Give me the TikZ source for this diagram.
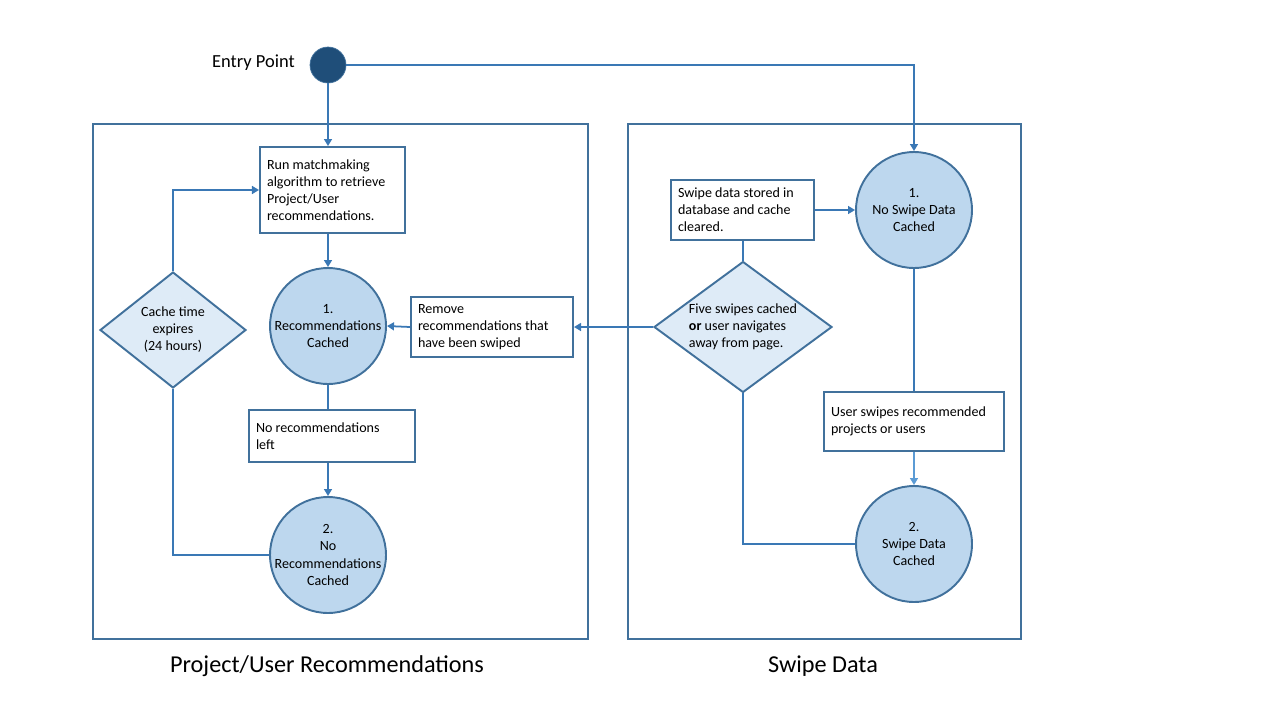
\documentclass[tikz,border=0pt]{standalone}
\usepackage{fontspec}
\setmainfont{Carlito}
\usetikzlibrary{arrows.meta,shapes.geometric}
\definecolor{edgeblue}{HTML}{41719C}
\definecolor{wireblue}{HTML}{3A78B5}
\definecolor{paleblue}{HTML}{5B9BD5}
\definecolor{statefill}{HTML}{BDD7EE}
\definecolor{choicefill}{HTML}{DEEBF7}
\definecolor{entryfill}{HTML}{1F4E79}

\begin{document}
\begin{tikzpicture}[x=0.02cm, y=-0.02cm, >={Triangle[length=4pt,width=4.5pt]},
  font=\fontsize{8}{9.7}\selectfont,
  frame/.style={draw=edgeblue, line width=1.1pt},
  state/.style={circle, draw=edgeblue, line width=1.1pt, fill=statefill,
    minimum size=2.32cm, inner sep=-8pt, align=center},
  task/.style={draw=edgeblue, line width=1.1pt, fill=white, align=flush left, inner sep=4pt},
  choice/.style={diamond, draw=edgeblue, line width=1.1pt, fill=choicefill, inner sep=0pt},
  wire/.style={draw=wireblue, line width=1pt},
  title/.style={font=\fontsize{13.8}{16}\selectfont}]
  \useasboundingbox (0,0) rectangle (1280,720);

  % two frames
  \draw[frame] (93,124) rectangle (588,639);
  \draw[frame] (628,124) rectangle (1021,639);
  \node[title] (leftcap) at (327,666) {Project/User Recommendations};
  \node[title] (rightcap) at (823,666) {Swipe Data};

  % entry
  \node[circle, fill=entryfill, draw=edgeblue, minimum size=0.72cm, inner sep=0pt] (entry) at (328,65) {};
  \node[anchor=east, font=\fontsize{10.5}{12}\selectfont] (entrylab) at (301,63) {Entry Point};

  % recommendations side
  \node[task, text width=2.62cm, minimum height=1.72cm] (run) at (332.5,190)
    {Run matchmaking\\algorithm to retrieve\\Project/User\\recommendations.};
  \node[state] (rec1) at (328,326) {1.\\Recommendations\\Cached};
  \node[task, text width=2.96cm, minimum height=1.18cm] (remove) at (492,327)
    {Remove\\recommendations that\\have been swiped};
  \node[choice, shape aspect=1.26, minimum width=2.92cm, minimum height=2.32cm, align=center] (cache) at (173,330)
    {Cache time\\expires\\(24 hours)};
  \node[task, text width=3.04cm, minimum height=1.04cm] (noleft) at (332,436)
    {No recommendations\\left};
  \node[state] (rec2) at (328,555) {2.\\No\\Recommendations\\Cached};

  % swipe side
  \node[task, text width=2.58cm, minimum height=1.2cm] (stored) at (742.5,210)
    {Swipe data stored in\\database and cache\\cleared.};
  \node[state] (sw1) at (914,210) {1.\\No Swipe Data\\Cached};
  \node[choice, shape aspect=1.36, minimum width=3.56cm, minimum height=2.62cm, align=flush left] (five) at (743,327)
    {Five swipes cached\\\textbf{or} user navigates\\away from page.};
  \node[task, text width=3.32cm, minimum height=1.18cm] (user) at (914,421.5)
    {User swipes recommended\\projects or users};
  \node[state] (sw2) at (914,544) {2.\\Swipe Data\\Cached};

  % connectors
  \draw[wire,->] (entry.east) -- (entry.east -| sw1.north) -- (sw1.north);
  \draw[wire,->] (entry.south) -- (entry.south |- run.north);
  \draw[wire,->] (run.south -| rec1.north) -- (rec1.north);
  \draw[wire,->] (remove.west) -- (rec1.east);
  \draw[wire,->] (five.west) -- (remove.east);
  \draw[wire,->] (cache.north) |- (run.west);
  \draw[wire] (rec1.south) -- (rec1.south |- noleft.north);
  \draw[wire,->] (noleft.south -| rec2.north) -- (rec2.north);
  \draw[wire] (rec2.west) -| (cache.south);
  \draw[wire,->] (stored.east) -- (sw1.west);
  \draw[wire] (sw1.south) -- (sw1.south |- user.north);
  \draw[wire, draw=paleblue, ->] (user.south) -- (sw2.north);
  \draw[wire] (sw2.west) -| (five.south);
  \draw[wire] (five.north) -- (five.north |- stored.south);
\end{tikzpicture}
\end{document}
